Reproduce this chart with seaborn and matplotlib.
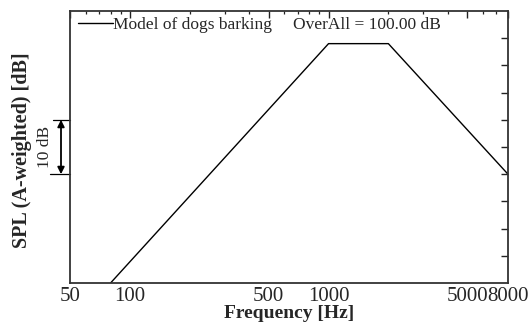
import matplotlib
matplotlib.use("Agg")
import matplotlib.pyplot as plt
import matplotlib.transforms as mtransforms
from matplotlib.ticker import FixedLocator, NullFormatter, FixedFormatter
import seaborn as sns

# Piecewise spectrum model (A-weighted SPL vs. frequency)
freq_hz = [80, 1000, 2000, 8000]
spl_db = [50, 94, 94, 70]

series_label = "Model of dogs barking"
overall_text = "OverAll = 100.00 dB"

x_major = [50, 100, 500, 1000, 5000, 8000]
x_major_labels = ["50", "100", "500", "1000", "5000", "8000"]
x_minor = [60, 70, 80, 90, 200, 300, 400, 600, 700, 800, 900,
           2000, 3000, 4000, 6000, 7000]
y_ticks = [55, 60, 65, 70, 75, 80, 85, 90, 95]
scale_bar = [70, 80]

sns.set_style("white")
plt.rcParams["font.family"] = ["Liberation Serif", "DejaVu Serif"]

fig = plt.figure(figsize=(5.32, 3.31), dpi=100)
ax = fig.add_axes([70 / 532, 1 - 283 / 331, 438 / 532, 272 / 331])

sns.lineplot(x=freq_hz, y=spl_db, ax=ax, color="black", linewidth=1.0,
             label=series_label)

ax.set_xscale("log")
ax.set_xlim(50, 8000)
ax.set_ylim(50, 100)

ax.xaxis.set_major_locator(FixedLocator(x_major))
ax.xaxis.set_major_formatter(FixedFormatter(x_major_labels))
ax.xaxis.set_minor_locator(FixedLocator(x_minor))
ax.xaxis.set_minor_formatter(NullFormatter())
ax.yaxis.set_major_locator(FixedLocator(y_ticks))
ax.yaxis.set_major_formatter(NullFormatter())

ax.tick_params(axis="both", which="major", direction="in", length=5,
               width=1.0, color="#222222", top=True, right=True,
               labelsize=15, pad=3)
ax.tick_params(axis="x", which="minor", direction="in", length=2.5,
               width=0.9, color="#222222", top=True)
for s in ax.spines.values():
    s.set_color("#333333")
    s.set_linewidth(1.3)
ax.set_xlabel("")
ax.set_ylabel("")

leg = ax.legend(loc="center left", bbox_to_anchor=(0.018, 0.949),
                frameon=False, fontsize=12.5, handlelength=2.0,
                handletextpad=0.0, borderpad=0, borderaxespad=0)
ax.text(0.509, 0.949, overall_text, transform=ax.transAxes, ha="left",
        va="center", fontsize=12.5)

# axis titles
fig.text(289 / 532, 1 - 313 / 331, "Frequency [Hz]", ha="center",
         va="center", fontsize=14, fontweight="bold")
fig.text(22 / 532, 1 - 150 / 331, "SPL (A-weighted) [dB]", ha="center",
         va="center", rotation=90, fontsize=14.5, fontweight="bold")

# 10 dB scale bar left of the axis
trans = mtransforms.blended_transform_factory(fig.transFigure, ax.transData)
for v, x0 in zip(scale_bar, [50 / 532, 53 / 532]):
    ax.plot([x0, 70 / 532], [v, v], transform=trans, color="black",
            linewidth=0.9, clip_on=False)
ax.annotate("", xy=(61 / 532, scale_bar[0]), xytext=(61 / 532, scale_bar[1]),
            xycoords=trans, textcoords=trans,
            arrowprops=dict(arrowstyle="<|-|>", color="black", lw=1.3,
                            mutation_scale=10, shrinkA=0, shrinkB=0),
            annotation_clip=False)
fig.text(45 / 532, 1 - 147 / 331, "10 dB", ha="center", va="center",
         rotation=90, fontsize=12.5)

fig.savefig("out.png", dpi=100, facecolor="white")
